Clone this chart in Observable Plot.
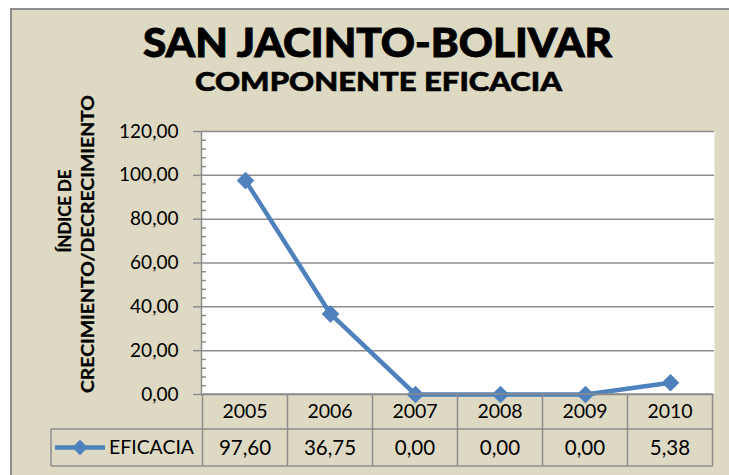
<!DOCTYPE html>
<html><head><meta charset="utf-8">
<script src="https://cdn.jsdelivr.net/npm/d3@7"></script>
<script src="https://cdn.jsdelivr.net/npm/@observablehq/plot@0.6"></script>
<style>
html,body{margin:0;padding:0;background:#fff;}
#wrap{position:relative;width:729px;height:475px;overflow:hidden;}
#bg{position:absolute;left:10px;top:8px;width:740px;height:490px;background:#DDD9C3;border-left:2px solid #8f8f8f;border-top:2px solid #8f8f8f;}
#chart{position:absolute;left:0;top:0;}
#overlay{position:absolute;left:0;top:0;pointer-events:none;}
</style></head><body>
<div id="wrap"><div id="bg"></div><div id="chart"></div><svg id="overlay" width="729" height="475"></svg></div>
<script>
const years = ["2005", "2006", "2007", "2008", "2009", "2010"];
const eficacia = [97.60, 36.75, 0.00, 0.00, 0.00, 5.38];
const yTicks = [0, 20, 40, 60, 80, 100, 120];
const yMinorTicks = [4, 8, 12, 16, 24, 28, 32, 36, 44, 48, 52, 56, 64, 68, 72, 76, 84, 88, 92, 96, 104, 108, 112, 116];
const title = "SAN JACINTO-BOLIVAR";
const subtitle = "COMPONENTE EFICACIA";
const yLabel = ["ÍNDICE DE", "CRECIMIENTO/DECRECIMIENTO"];
const seriesName = "EFICACIA";

const fmt = v => v.toFixed(2).replace(".", ",");
const data = years.map((year, i) => ({year, value: eficacia[i]}));
const BLUE = "#4F81BD", GRID = "#8c8c8c";
const W = 729, H = 475, mL = 201, mR = 15, mT = 131, mB = 81;
const FONT = "Lato, 'Open Sans', sans-serif";

const plot = Plot.plot({
  width: W, height: H,
  marginLeft: mL, marginRight: mR, marginTop: mT, marginBottom: mB,
  style: {background: "transparent", fontFamily: FONT, fontSize: "19px", color: "#000", overflow: "visible"},
  x: {type: "point", domain: years, padding: 0.5, axis: null},
  y: {domain: [0, 120], axis: null},
  marks: [
    Plot.frame({fill: "white", stroke: null}),
    Plot.gridY(yTicks, {stroke: GRID, strokeOpacity: 1, strokeWidth: 1.5}),
    Plot.tickY(yMinorTicks, {y: d => d, stroke: GRID, strokeWidth: 1.5, insetRight: W - mL - mR - 5}),
    Plot.axisY(yTicks, {anchor: "left", tickSize: 8, tickPadding: 15, tickFormat: fmt, stroke: GRID, strokeWidth: 1.5, label: null}),
    Plot.frame({anchor: "left", stroke: GRID, strokeWidth: 1.5}),
    Plot.line(data, {x: "year", y: "value", stroke: BLUE, strokeWidth: 4.5}),
    Plot.dot(data, {x: "year", y: "value", symbol: "diamond2", r: 7.5, fill: BLUE, stroke: BLUE, strokeWidth: 1})
  ]
});
document.getElementById("chart").appendChild(plot);

const xs = plot.scale("x"), ys = plot.scale("y");
const centers = years.map(y => xs.apply(y));
const step = centers[1] - centers[0];
const y0 = ys.apply(0);
const xLeft = centers[0] - step / 2, xRight = centers[centers.length - 1] + step / 2;
const row1 = 35, row2 = 37, tableLeft = 51;

const svg = d3.select("#overlay");
const g = svg.append("g").attr("font-family", FONT).attr("fill", "#000");

// titles
g.append("text").text(title).attr("x", 377.5).attr("y", 57)
  .attr("text-anchor", "middle").attr("font-weight", 900).attr("font-size", 39)
  .attr("stroke", "#000").attr("stroke-width", 0.9)
  .attr("textLength", 469).attr("lengthAdjust", "spacingAndGlyphs");
g.append("text").text(subtitle).attr("x", 378.5).attr("y", 91)
  .attr("text-anchor", "middle").attr("font-weight", 900).attr("font-size", 27)
  .attr("stroke", "#000").attr("stroke-width", 0.6)
  .attr("textLength", 367).attr("lengthAdjust", "spacingAndGlyphs");

// y label
g.append("text").text(yLabel[0]).attr("transform", "translate(71,211) rotate(-90)")
  .attr("text-anchor", "middle").attr("font-weight", "bold").attr("font-size", 16.5)
  .attr("stroke", "#000").attr("stroke-width", 0.3)
  .attr("textLength", 83).attr("lengthAdjust", "spacingAndGlyphs");
g.append("text").text(yLabel[1]).attr("transform", "translate(94,244) rotate(-90)")
  .attr("text-anchor", "middle").attr("font-weight", "bold").attr("font-size", 16.5)
  .attr("stroke", "#000").attr("stroke-width", 0.3)
  .attr("textLength", 298).attr("lengthAdjust", "spacingAndGlyphs");

// table lines
const lines = g.append("g").attr("stroke", GRID).attr("stroke-width", 1.5).attr("fill", "none");
[0, 1, 2, 3, 4, 5, 6].forEach(i => {
  const x = xLeft + i * step;
  lines.append("line").attr("x1", x).attr("x2", x).attr("y1", y0).attr("y2", y0 + row1 + row2);
});
lines.append("line").attr("x1", tableLeft).attr("x2", tableLeft).attr("y1", y0 + row1).attr("y2", y0 + row1 + row2);
lines.append("line").attr("x1", xLeft).attr("x2", xRight).attr("y1", y0).attr("y2", y0);
lines.append("line").attr("x1", tableLeft).attr("x2", xRight).attr("y1", y0 + row1).attr("y2", y0 + row1);
lines.append("line").attr("x1", tableLeft).attr("x2", xRight).attr("y1", y0 + row1 + row2).attr("y2", y0 + row1 + row2);

// table text
years.forEach((yr, i) => {
  g.append("text").text(yr).attr("x", centers[i]).attr("y", y0 + row1 / 2).attr("dy", "0.35em")
    .attr("text-anchor", "middle").attr("font-size", 19.5);
  g.append("text").text(fmt(eficacia[i])).attr("x", centers[i]).attr("y", y0 + row1 + row2 / 2).attr("dy", "0.35em")
    .attr("text-anchor", "middle").attr("font-size", 20.5);
});
// legend key
const ly = y0 + row1 + row2 / 2;
g.append("line").attr("x1", 55).attr("x2", 105).attr("y1", ly).attr("y2", ly)
  .attr("stroke", BLUE).attr("stroke-width", 4.5);
g.append("path").attr("d", d3.symbol(d3.symbolDiamond2, Math.PI * 7 * 7)()).attr("transform", `translate(80,${ly})`)
  .attr("fill", BLUE);
g.append("text").text(seriesName).attr("x", 109).attr("y", ly).attr("dy", "0.35em")
  .attr("font-size", 19.5).attr("textLength", 85).attr("lengthAdjust", "spacingAndGlyphs");
</script>
</body></html>
